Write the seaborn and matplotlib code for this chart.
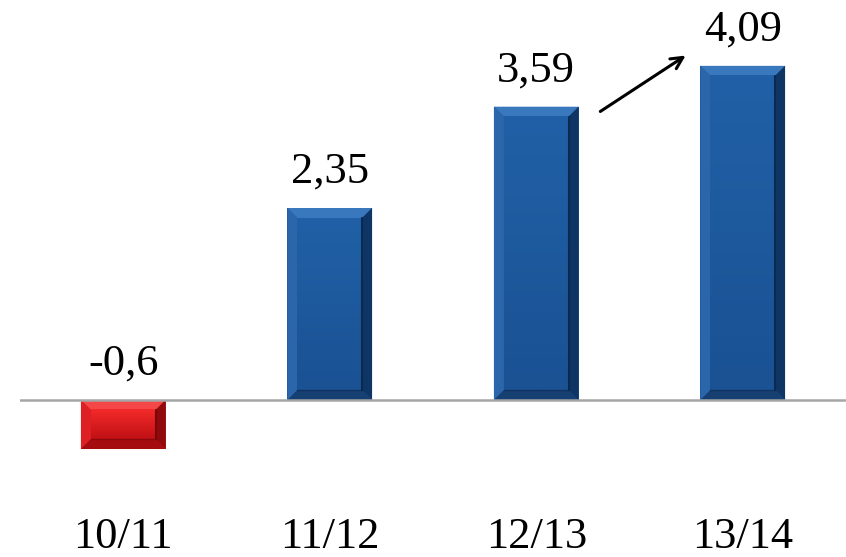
import matplotlib
matplotlib.use("Agg")
import matplotlib.pyplot as plt
import seaborn as sns
import numpy as np
import pandas as pd
from matplotlib.patches import Polygon
from matplotlib.colors import LinearSegmentedColormap

categories = ["10/11", "11/12", "12/13", "13/14"]
values = [-0.6, 2.35, 3.59, 4.09]
value_labels = ["-0,6", "2,35", "3,59", "4,09"]

sns.set_theme(style="white")
plt.rcParams['font.family'] = ['Liberation Serif', 'DejaVu Serif']

W, H = 846, 557
fig = plt.figure(figsize=(W / 100, H / 100), dpi=100)
ax = fig.add_axes([20 / W, 0, 826 / W, 1])

df = pd.DataFrame({"cat": categories, "val": values})
pal = {c: ("#1B5597" if v >= 0 else "#E3141B") for c, v in zip(categories, values)}
sns.barplot(data=df, x="cat", y="val", hue="cat", palette=pal, width=0.41,
            legend=False, ax=ax, saturation=1, linewidth=0)

ax.set_xlim(-0.5, 3.5)
ax.set_ylim(-157 / 81.7, 400 / 81.7)
ax.set_axis_off()

fig.canvas.draw()
to_disp = ax.transData
to_data = ax.transData.inverted()

blue = dict(top="#3A78BE", left="#2B66AA", right="#0F3564", bottom="#163F72",
            g_top="#2160A6", g_bot="#1A5294", line="#0B2A52")
red = dict(top="#F44848", left="#DC2024", right="#8E0A0C", bottom="#A50C10",
           g_top="#F42A2A", g_bot="#C01015", line="#7A0608")

d = 10
for p, v in zip(ax.patches, values):
    sty = blue if v >= 0 else red
    x0, y0 = p.get_x(), p.get_y()
    x1, y1 = x0 + p.get_width(), y0 + p.get_height()
    (L, B) = to_disp.transform((x0, min(y0, y1)))
    (R, T) = to_disp.transform((x1, max(y0, y1)))
    l, b, r, t = L + d, B + d, R - d, T - d

    def poly(pts, c, z=3):
        dp = to_data.transform(np.array(pts))
        ax.add_patch(Polygon(dp, closed=True, facecolor=c, edgecolor="none", zorder=z))

    poly([(L, T), (R, T), (r, t), (l, t)], sty["top"])
    poly([(L, B), (L, T), (l, t), (l, b)], sty["left"])
    poly([(R, B), (R, T), (r, t), (r, b)], sty["right"])
    poly([(L, B), (R, B), (r, b), (l, b)], sty["bottom"])

    cmap = LinearSegmentedColormap.from_list("g", [sty["g_top"], sty["g_bot"]])
    (dl, db) = to_data.transform((l, b))
    (dr, dt) = to_data.transform((r, t))
    grad = np.linspace(0, 1, 100).reshape(-1, 1)
    ax.imshow(grad, cmap=cmap, extent=(dl, dr, db, dt), aspect="auto",
              origin="upper", zorder=3.5, interpolation="bilinear")
    ax.plot([dr, dr], [db, dt], color=sty["line"], lw=1.5, zorder=3.6)
    ax.plot([dl, dr], [db, db], color=sty["line"], lw=1.0, zorder=3.6, alpha=0.6)

ax.set_xlim(-0.5, 3.5)
ax.set_ylim(-157 / 81.7, 400 / 81.7)

ax.axhline(0, color="#A6A6A6", lw=1.8, zorder=4)

fs = 32
for i, (v, lab) in enumerate(zip(values, value_labels)):
    base = max(v, 0)
    ax.annotate(lab, xy=(i, base), xytext=(0, 18), textcoords="offset points",
                ha="center", va="baseline", fontsize=fs, color="black", zorder=6)
    ax.text(i, -(548 - 400) / 81.7, categories[i], ha="center", va="baseline",
            fontsize=fs, color="black")

ax.annotate("", xy=(2.735, 4.235), xytext=(2.299, 3.513),
            arrowprops=dict(arrowstyle="->,head_length=0.7,head_width=0.35",
                            color="black", lw=2.2), zorder=6)

fig.savefig("out.png", dpi=100)
